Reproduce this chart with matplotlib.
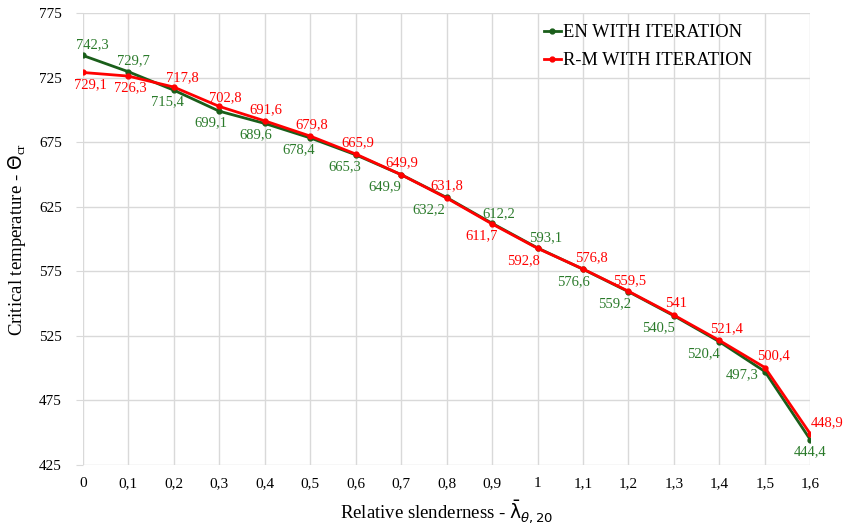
import matplotlib
matplotlib.use("Agg")
import matplotlib.pyplot as plt

slenderness = [0, 0.1, 0.2, 0.3, 0.4, 0.5, 0.6, 0.7, 0.8, 0.9, 1.0,
               1.1, 1.2, 1.3, 1.4, 1.5, 1.6]
en_iter = [742.3, 729.7, 715.4, 699.1, 689.6, 678.4, 665.3, 649.9, 632.2,
           612.2, 593.1, 576.6, 559.2, 540.5, 520.4, 497.3, 444.4]
rm_iter = [729.1, 726.3, 717.8, 702.8, 691.6, 679.8, 665.9, 649.9, 631.8,
           611.7, 592.8, 576.8, 559.5, 541, 521.4, 500.4, 448.9]

# label offsets from the point, in pixels (dx right, dy down)
en_dx = [10, 5, -6, -8, -9, -11, -11, -16, -18, 7, 8, -10, -14, -15, -16, -23, 0]
en_dy = [-11, -11, 12, 12, 11, 12, 12, 12, 12, -10, -10, 12, 12, 12, 12, 3, 12]
rm_dx = [8, 2, 9, 6, 1, 2, 2, 1, 0, -10, -14, 8, 1, 2, 7, 9, 17]
rm_dy = [12, 12, -9, -9, -11, -11, -11, -12, -12, 12, 12, -11, -11, -12, -12, -12, -11]

green = "#1a5e1a"
green_txt = "#2a7a2a"
red = "#ff0000"

plt.rcParams["font.family"] = ["Liberation Serif", "DejaVu Serif"]
plt.rcParams["mathtext.fontset"] = "dejavusans"

fig = plt.figure(figsize=(8.45, 5.30), dpi=100)
ax = fig.add_axes([0.098, 0.123, 0.861, 0.852])

ax.plot(slenderness, en_iter, color=green, lw=2, marker="o", ms=3.5,
        label="EN WITH ITERATION", zorder=3)
ax.plot(slenderness, rm_iter, color=red, lw=2, marker="o", ms=3.5,
        label="R-M WITH ITERATION", zorder=4)


def fmt(v):
    s = f"{v:.1f}"
    if s.endswith(".0"):
        s = s[:-2]
    return s.replace(".", ",")


px = 72 / fig.dpi
for xs, ys, dxs, dys, col in [(slenderness, en_iter, en_dx, en_dy, green_txt),
                              (slenderness, rm_iter, rm_dx, rm_dy, red)]:
    for x, v, dx, dy in zip(xs, ys, dxs, dys):
        ax.annotate(fmt(v), (x, v), xytext=(dx * px, -dy * px),
                    textcoords="offset points", ha="center", va="center",
                    color=col, fontsize=10.5)

ax.set_xlim(0, 1.6)
ax.set_ylim(425, 775)
ax.set_xticks(slenderness)
ax.set_xticklabels([fmt(x) for x in slenderness])
ax.set_yticks(range(425, 776, 50))
ax.grid(True, color="#d9d9d9", lw=1)
ax.set_axisbelow(True)
for s in ax.spines.values():
    s.set_visible(False)
ax.tick_params(axis="both", labelsize=11, colors="#d9d9d9", labelcolor="black")
ax.tick_params(axis="x", length=0, pad=9)
ax.tick_params(axis="y", length=5, pad=10)

ax.set_xlabel(r"Relative slenderness - $\bar{\mathrm{\lambda}}_{\theta,20}$",
              fontsize=13.5, labelpad=6)
ax.set_ylabel(r"Critical temperature - $\Theta_{\mathregular{cr}}$",
              fontsize=13.5, labelpad=8)

leg = ax.legend(loc="upper left", bbox_to_anchor=(544 / 845, 1 - 24 / 530),
                bbox_transform=fig.transFigure, frameon=False,
                borderpad=0, borderaxespad=0,
                fontsize=13.3, handlelength=0.9, handletextpad=0.15,
                labelspacing=0.6)

fig.savefig("out.png", dpi=100)
